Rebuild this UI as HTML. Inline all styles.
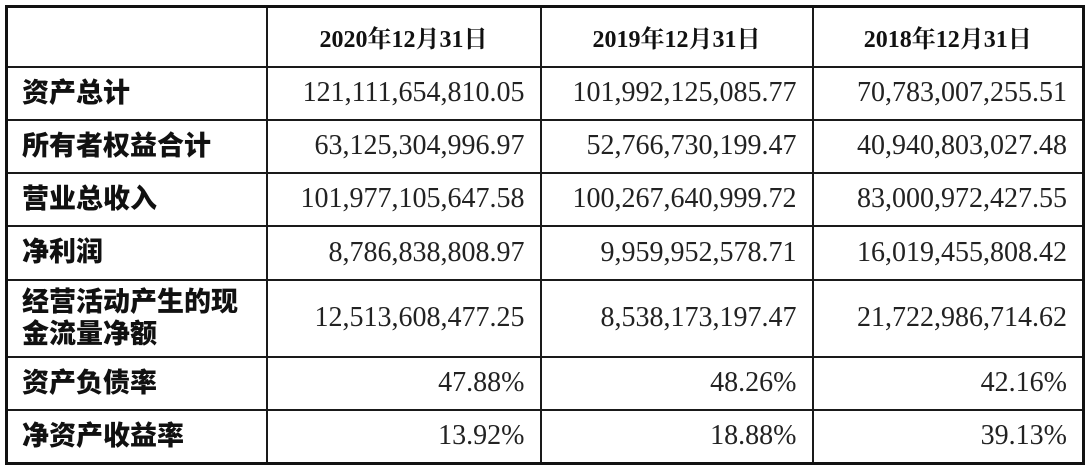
<!DOCTYPE html>
<html><head><meta charset="utf-8"><style>
html,body{margin:0;padding:0;background:#fff;width:1090px;height:468px;overflow:hidden}
table{position:absolute;left:5px;top:5px;border-collapse:collapse;width:1080px;height:458px;border:3px solid #111;table-layout:fixed}
td{border:2px solid #1a1a1a;padding:0 15px;color:#222;font-family:"Liberation Serif","Noto Serif CJK SC",serif;font-size:28px;text-align:right;white-space:nowrap}
td.l{text-align:left;font-family:"Liberation Sans","Noto Sans CJK SC",sans-serif;font-weight:900;font-size:27px;padding-left:14px;line-height:1.2;color:#111}
th{border:2px solid #1a1a1a;font-family:"Liberation Serif","Noto Serif CJK SC",serif;font-weight:bold;font-size:24px;color:#111}
</style></head><body>
<table>
<colgroup><col style="width:260px"><col style="width:274px"><col style="width:272px"><col></colgroup>
<tr style="height:60px"><th></th><th>2020年12月31日</th><th>2019年12月31日</th><th>2018年12月31日</th></tr>
<tr style="height:53px"><td class="l">资产总计</td><td>121,111,654,810.05</td><td>101,992,125,085.77</td><td>70,783,007,255.51</td></tr>
<tr style="height:53px"><td class="l">所有者权益合计</td><td>63,125,304,996.97</td><td>52,766,730,199.47</td><td>40,940,803,027.48</td></tr>
<tr style="height:53px"><td class="l">营业总收入</td><td>101,977,105,647.58</td><td>100,267,640,999.72</td><td>83,000,972,427.55</td></tr>
<tr style="height:54px"><td class="l">净利润</td><td>8,786,838,808.97</td><td>9,959,952,578.71</td><td>16,019,455,808.42</td></tr>
<tr style="height:77px"><td class="l">经营活动产生的现<br>金流量净额</td><td>12,513,608,477.25</td><td>8,538,173,197.47</td><td>21,722,986,714.62</td></tr>
<tr style="height:53px"><td class="l">资产负债率</td><td>47.88%</td><td>48.26%</td><td>42.16%</td></tr>
<tr style="height:54px"><td class="l">净资产收益率</td><td>13.92%</td><td>18.88%</td><td>39.13%</td></tr>
</table>
</body></html>
